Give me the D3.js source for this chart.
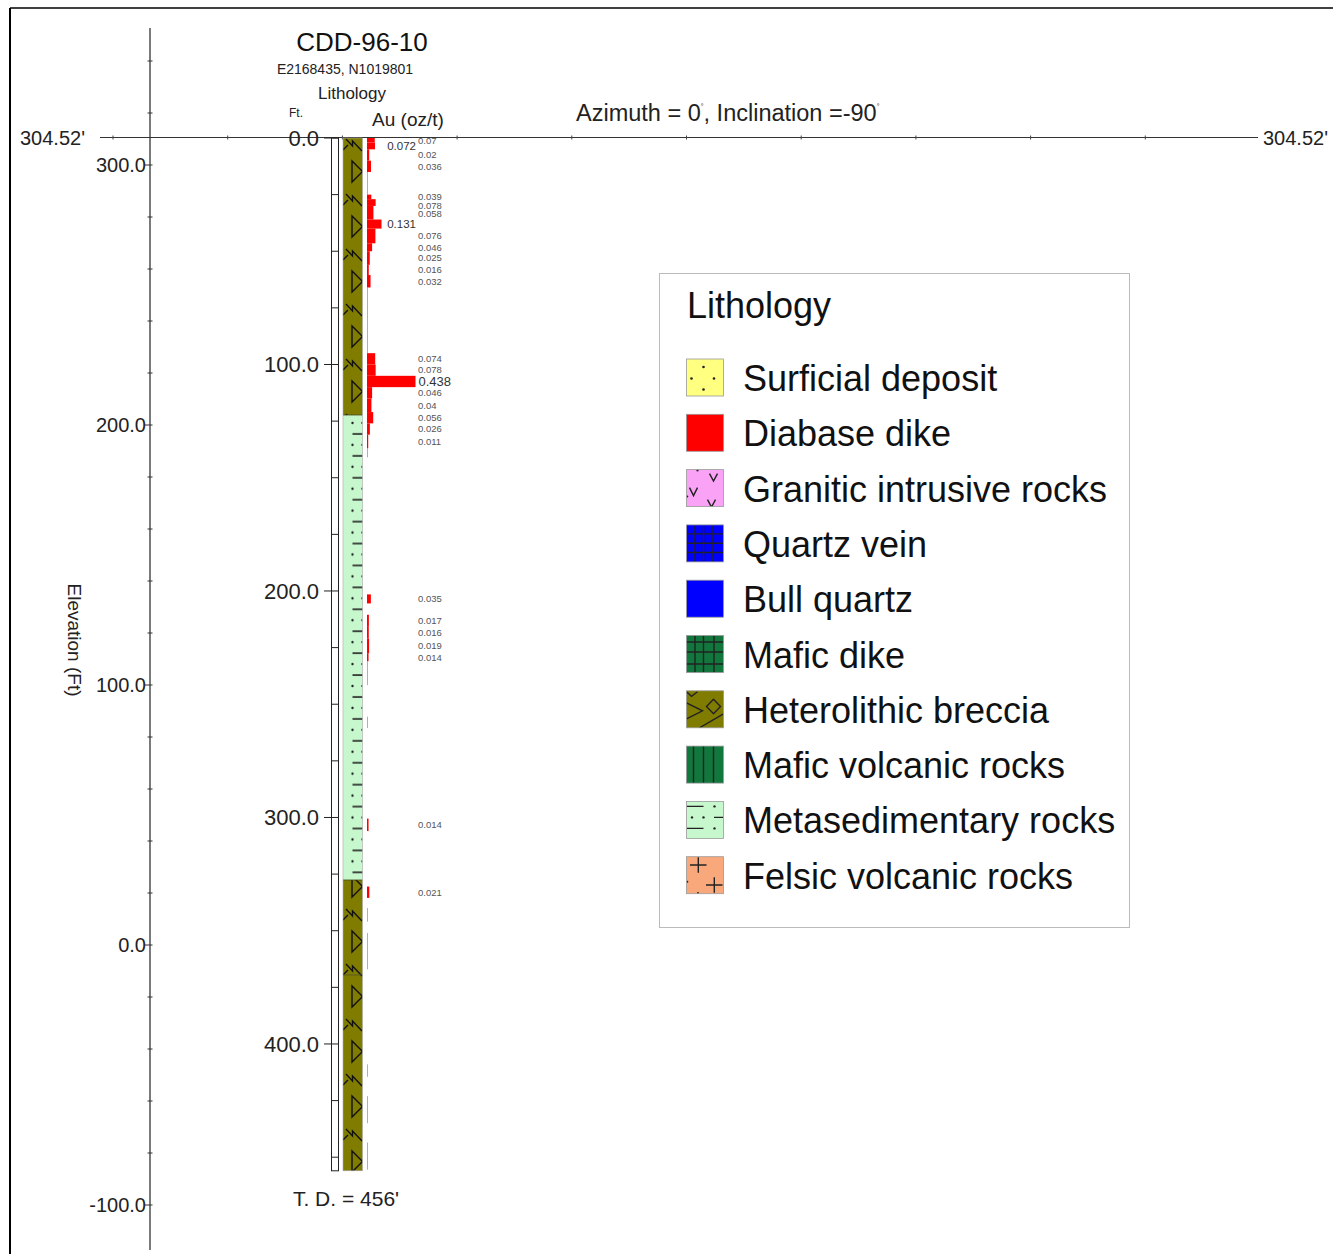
<!DOCTYPE html>
<html><head><meta charset="utf-8">
<script src="https://cdn.jsdelivr.net/npm/d3@7"></script>
<style>html,body{margin:0;padding:0;background:#fff;}svg{display:block;font-family:"Liberation Sans",Arial,Helvetica,sans-serif;}</style>
</head><body>
<svg id="chart" width="1333" height="1254"></svg>
<script>
// ---------------- data ----------------
const holeName = "CDD-96-10";
const collarCoords = "E2168435, N1019801";
const collarElevLabel = "304.52'";
const trackTitle = "Lithology";
const depthUnit = "Ft.";
const assayTitle = "Au (oz/t)";
const azimuthParts = ["Azimuth = 0", "°", ", Inclination =-90", "°"];
const elevTitle = "Elevation (Ft)";
const totalDepth = 456;
const tdLabel = "T. D. = 456'";

const lithFrom = [0, 122.3, 327.6, 369.5];
const lithTo   = [122.3, 327.6, 369.5, 456];
const lithUnit = ["Heterolithic breccia", "Metasedimentary rocks", "Heterolithic breccia", "Heterolithic breccia"];

const auFrom  = [0, 2, 5, 10, 15, 25, 27, 30, 36, 40, 46.5, 50, 56, 60.5, 66, 95, 100, 105, 110, 115, 121, 126, 131, 137, 201.5, 210.5, 215.5, 221, 227.5, 231, 255.5, 300.5, 330.5, 340, 351, 409, 423, 443.5];
const auTo    = [2, 5, 10, 15, 25, 27, 30, 36, 40, 46.5, 50, 56, 60.5, 66, 95, 100, 105, 110, 115, 121, 126, 131, 137, 141, 205.5, 215.5, 221, 227.5, 231, 241.5, 260.5, 306, 335.5, 346, 367, 414.5, 435, 455.5];
const auValue = [0.07, 0.072, 0.02, 0.036, 0.004, 0.039, 0.078, 0.058, 0.131, 0.076, 0.046, 0.025, 0.016, 0.032, 0.004, 0.074, 0.078, 0.438, 0.046, 0.04, 0.056, 0.026, 0.011, 0.004, 0.035, 0.017, 0.016, 0.019, 0.014, 0.004, 0.004, 0.014, 0.021, 0.004, 0.004, 0.004, 0.004, 0.004];
const auHighlight = [0.072, 0.131, 0.438];
const auLabelMin = 0.01;

const depthLabels = [0, 100, 200, 300, 400];
const elevLabels = [300, 200, 100, 0, -100];

const legendTitle = "Lithology";
const legendNames = ["Surficial deposit", "Diabase dike", "Granitic intrusive rocks", "Quartz vein", "Bull quartz",
  "Mafic dike", "Heterolithic breccia", "Mafic volcanic rocks", "Metasedimentary rocks", "Felsic volcanic rocks"];

// ---------------- styles ----------------
const lithColor = {
  "Surficial deposit": "#ffff80", "Diabase dike": "#ff0000", "Granitic intrusive rocks": "#f9a2f6",
  "Quartz vein": "#0000ff", "Bull quartz": "#0000ff", "Mafic dike": "#12773d",
  "Heterolithic breccia": "#807c00", "Mafic volcanic rocks": "#12773d",
  "Metasedimentary rocks": "#c6f7cd", "Felsic volcanic rocks": "#f9a87b"
};

const svg = d3.select("#chart");
const W = 1333, H = 1254;
svg.append("rect").attr("width", W).attr("height", H).attr("fill", "#fff");

// ---------------- scales ----------------
const yDepth = d3.scaleLinear().domain([0, totalDepth]).range([138, 1170.8]);
const yElev = d3.scaleLinear().domain([300, -100]).range([165, 1205]);
const xAu = d3.scaleLinear().domain([0, 0.438]).range([367, 415.5]);
const xSection = d3.scaleLinear().domain([0, 500]).range([113, 1260]);

const colX0 = 343, colX1 = 362.5;

// frame
svg.append("line").attr("x1", 10).attr("x2", 10).attr("y1", 8).attr("y2", H).attr("stroke", "#000").attr("stroke-width", 2);
svg.append("line").attr("x1", 10).attr("x2", W).attr("y1", 8).attr("y2", 8).attr("stroke", "#000").attr("stroke-width", 1.5);

// ---------------- patterns ----------------
const defs = svg.append("defs");
const pb = defs.append("pattern").attr("id", "pat-brec").attr("patternUnits", "userSpaceOnUse")
  .attr("x", colX0).attr("y", yDepth(0)).attr("width", 20).attr("height", 55);
pb.append("rect").attr("width", 20).attr("height", 55).attr("fill", lithColor["Heterolithic breccia"]);
pb.append("path").attr("d", "M0,12 L5,7 M3,1 L9.5,8 L9.5,3 L19,13").attr("fill", "none").attr("stroke", "#111").attr("stroke-width", 1.4);
pb.append("path").attr("d", "M9,23 L9,44 L19.5,33.5 Z").attr("fill", "none").attr("stroke", "#111").attr("stroke-width", 1.4);

const pm = defs.append("pattern").attr("id", "pat-meta").attr("patternUnits", "userSpaceOnUse")
  .attr("x", colX0).attr("y", yDepth(0) - 5).attr("width", 20).attr("height", 21.92);
pm.append("rect").attr("width", 20).attr("height", 21.92).attr("fill", lithColor["Metasedimentary rocks"]);
pm.append("circle").attr("cx", 9.5).attr("cy", 5).attr("r", 1.2).attr("fill", "#222");
pm.append("circle").attr("cx", 19).attr("cy", 5).attr("r", 0.9).attr("fill", "#444");
pm.append("line").attr("x1", 9.5).attr("x2", 20).attr("y1", 16).attr("y2", 16).attr("stroke", "#222").attr("stroke-width", 1.6);

const patId = {"Heterolithic breccia": "url(#pat-brec)", "Metasedimentary rocks": "url(#pat-meta)"};

// ---------------- section (horizontal) line ----------------
svg.append("line").attr("x1", 100).attr("x2", 1258).attr("y1", yDepth(0) - 0.5).attr("y2", yDepth(0) - 0.5)
  .attr("stroke", "#333").attr("stroke-width", 1.2);
svg.selectAll("line.sectick").data(d3.range(0, 451, 50)).join("line").attr("class", "sectick")
  .attr("x1", d => xSection(d)).attr("x2", d => xSection(d))
  .attr("y1", yDepth(0) - 2.5).attr("y2", yDepth(0) + 1.5).attr("stroke", "#444").attr("stroke-width", 1);
svg.append("text").attr("x", 85).attr("y", yDepth(0) + 7).attr("text-anchor", "end")
  .attr("font-size", 20).attr("fill", "#222").text(collarElevLabel);
svg.append("text").attr("x", 1263).attr("y", yDepth(0) + 7).attr("text-anchor", "start")
  .attr("font-size", 20).attr("fill", "#222").text(collarElevLabel);

// ---------------- elevation axis ----------------
const elevAxisX = 150;
svg.append("line").attr("x1", elevAxisX).attr("x2", elevAxisX).attr("y1", 28).attr("y2", 1250)
  .attr("stroke", "#333").attr("stroke-width", 1.3);
svg.selectAll("line.elevminor").data(d3.range(-100, 341, 20)).join("line").attr("class", "elevminor")
  .attr("x1", d => elevLabels.includes(d) ? elevAxisX - 5 : elevAxisX - 2.5).attr("x2", elevAxisX + 2.5)
  .attr("y1", d => yElev(d)).attr("y2", d => yElev(d)).attr("stroke", "#333").attr("stroke-width", 1);
svg.selectAll("text.elevlab").data(elevLabels).join("text").attr("class", "elevlab")
  .attr("x", elevAxisX - 4).attr("y", d => yElev(d)).attr("dy", "0.36em").attr("text-anchor", "end")
  .attr("font-size", 20).attr("fill", "#222").text(d => d.toFixed(1));
svg.append("text").attr("transform", `translate(68,640) rotate(90)`).attr("text-anchor", "middle")
  .attr("font-size", 19).attr("fill", "#222").text(elevTitle);

// ---------------- header texts ----------------
svg.append("text").attr("x", 362).attr("y", 51).attr("text-anchor", "middle").attr("font-size", 26).attr("fill", "#111").text(holeName);
svg.append("text").attr("x", 345).attr("y", 74).attr("text-anchor", "middle").attr("font-size", 14).attr("fill", "#222").text(collarCoords);
svg.append("text").attr("x", 352).attr("y", 99).attr("text-anchor", "middle").attr("font-size", 17).attr("fill", "#222").text(trackTitle);
svg.append("text").attr("x", 296).attr("y", 117).attr("text-anchor", "middle").attr("font-size", 12).attr("fill", "#222").text(depthUnit);
svg.append("text").attr("x", 408).attr("y", 126).attr("text-anchor", "middle").attr("font-size", 19).attr("fill", "#222").text(assayTitle);
const az = svg.append("text").attr("x", 576).attr("y", 121).attr("font-size", 23.5).attr("fill", "#222");
azimuthParts.forEach((t, i) => {
  const ts = az.append("tspan").text(t);
  if (i % 2 === 1) ts.attr("font-size", 7).attr("dy", -12);
  else if (i > 0) ts.attr("dy", 12);
});

// ---------------- depth track ----------------
svg.append("rect").attr("x", 331.5).attr("y", yDepth(0)).attr("width", 7).attr("height", yDepth(totalDepth) - yDepth(0))
  .attr("fill", "#fff").attr("stroke", "#222").attr("stroke-width", 1);
svg.selectAll("line.dtick").data(d3.range(0, totalDepth, 25)).join("line").attr("class", "dtick")
  .attr("x1", d => depthLabels.includes(d) ? 324 : 331.5).attr("x2", 338.5)
  .attr("y1", d => yDepth(d)).attr("y2", d => yDepth(d)).attr("stroke", "#222").attr("stroke-width", 1);
svg.selectAll("text.dlab").data(depthLabels).join("text").attr("class", "dlab")
  .attr("x", 319).attr("y", d => yDepth(d)).attr("dy", "0.36em").attr("text-anchor", "end")
  .attr("font-size", 22).attr("fill", "#222").text(d => d.toFixed(1));
svg.append("text").attr("x", 346).attr("y", 1206).attr("text-anchor", "middle").attr("font-size", 21).attr("fill", "#222").text(tdLabel);

// ---------------- lithology column ----------------
const lith = lithFrom.map((f, i) => ({from: f, to: lithTo[i], unit: lithUnit[i]}));
svg.selectAll("rect.lith").data(lith).join("rect").attr("class", "lith")
  .attr("x", colX0).attr("width", colX1 - colX0)
  .attr("y", d => yDepth(d.from)).attr("height", d => yDepth(d.to) - yDepth(d.from))
  .attr("fill", d => patId[d.unit] || lithColor[d.unit]);
svg.selectAll("line.lithb").data(lith.slice(1)).join("line").attr("class", "lithb")
  .attr("x1", colX0).attr("x2", colX1).attr("y1", d => yDepth(d.from)).attr("y2", d => yDepth(d.from))
  .attr("stroke", "#4a4a20").attr("stroke-width", 0.8);
svg.append("rect").attr("x", colX0).attr("y", yDepth(0)).attr("width", colX1 - colX0).attr("height", yDepth(totalDepth) - yDepth(0))
  .attr("fill", "none").attr("stroke", "#aaa").attr("stroke-width", 0.6);

// ---------------- Au bars ----------------
const au = auFrom.map((f, i) => ({from: f, to: auTo[i], v: auValue[i]}));
svg.selectAll("rect.au").data(au).join("rect").attr("class", "au")
  .attr("x", xAu(0)).attr("y", d => yDepth(d.from))
  .attr("width", d => xAu(d.v) - xAu(0)).attr("height", d => yDepth(d.to) - yDepth(d.from))
  .attr("fill", "#ff0000");

// labels
const small = au.filter(d => d.v >= auLabelMin && !auHighlight.includes(d.v))
  .map(d => ({v: d.v, y: yDepth((d.from + d.to) / 2)}));
small.sort((a, b) => a.y - b.y);
for (let i = 1; i < small.length; i++) {
  if (small[i].y - small[i - 1].y < 8.5) small[i].y = small[i - 1].y + 8.5;
}
svg.selectAll("text.ausm").data(small).join("text").attr("class", "ausm")
  .attr("x", 418).attr("y", d => d.y).attr("dy", "0.35em").attr("font-size", 9.5).attr("fill", "#555")
  .text(d => String(d.v));
const big = au.filter(d => auHighlight.includes(d.v));
svg.selectAll("text.aubig").data(big).join("text").attr("class", "aubig")
  .attr("font-size", d => d.v > 0.2 ? 13 : 11.5)
  .attr("x", d => (xAu(d.v) + 34 > 416) ? xAu(d.v) + 3 : 416)
  .attr("text-anchor", d => (xAu(d.v) + 34 > 416) ? "start" : "end")
  .attr("y", d => yDepth((d.from + d.to) / 2)).attr("dy", "0.35em").attr("fill", "#333")
  .text(d => String(d.v));

// ---------------- legend ----------------
const lg = svg.append("g");
lg.append("rect").attr("x", 659.5).attr("y", 273.5).attr("width", 470).attr("height", 654)
  .attr("fill", "#fff").attr("stroke", "#bbb").attr("stroke-width", 1);
lg.append("text").attr("x", 687).attr("y", 318).attr("font-size", 36).attr("fill", "#111").text(legendTitle);

const P = 37;
function sym(g, name) {
  const st = (sel) => sel.attr("fill", "none").attr("stroke", "#222").attr("stroke-width", 1.4);
  const dot = (x, y, r) => g.append("circle").attr("cx", x).attr("cy", y).attr("r", r || 1.3).attr("fill", "#222");
  if (name === "Surficial deposit") { dot(17, 8); dot(5, 19.5); dot(27.5, 19.5); dot(17, 30.5); }
  if (name === "Granitic intrusive rocks") {
    st(g.append("path").attr("d", "M23,4 L27,11.5 L31,4 M3,18 L7,26 L11,18 M21,30 L25,37.5 L29,30"));
    dot(11, 0.8, 1.1); dot(0.8, 27, 1);
  }
  if (name === "Quartz vein") {
    st(g.append("path").attr("d", "M7.5,0 V37 M17,0 V37 M26.5,0 V37 M0,9 H37 M0,18.3 H37 M0,27.6 H37"));
  }
  if (name === "Mafic dike") {
    st(g.append("path").attr("d", "M8.5,0 V37 M17,0 V37 M27.5,0 V37 M0,6.5 H37 M0,16.5 H37 M0,28.5 H37"));
  }
  if (name === "Heterolithic breccia") {
    st(g.append("path").attr("d", "M27,8.5 L34,15.7 L27,23 L20,15.7 Z M0,1 L5,5.5 L11,1 M0,12 L16,20 L0,28 M13,37 L37,23"));
  }
  if (name === "Mafic volcanic rocks") {
    st(g.append("path").attr("d", "M7,0 V37 M17,0 V37 M27,0 V37"));
  }
  if (name === "Metasedimentary rocks") {
    st(g.append("path").attr("d", "M0,5 H17 M27.5,16 H37 M0,27 H17"));
    dot(28, 5, 1.2); dot(5.5, 16, 1.2); dot(17, 16, 1.2); dot(28, 27, 1.2);
  }
  if (name === "Felsic volcanic rocks") {
    st(g.append("path").attr("d", "M3.5,8.3 H20 M11.8,0.5 V16 M19.5,28.3 H36 M27.8,20.5 V36"));
    dot(0.8, 25, 1); dot(11.5, 36.2, 1);
  }
}
legendNames.forEach((name, i) => {
  const y0 = 359 + i * 55.3;
  const g = lg.append("g").attr("transform", `translate(686.5,${y0})`);
  g.append("clipPath").attr("id", "lc" + i).append("rect").attr("width", P).attr("height", P);
  g.append("rect").attr("width", P).attr("height", P).attr("fill", lithColor[name]);
  sym(g.append("g").attr("clip-path", `url(#lc${i})`), name);
  g.append("rect").attr("width", P).attr("height", P).attr("fill", "none").attr("stroke", "#9a9a9a").attr("stroke-width", 0.8);
  lg.append("text").attr("x", 743).attr("y", y0 + 32).attr("font-size", 36).attr("fill", "#111").text(name);
});
</script></body></html>
